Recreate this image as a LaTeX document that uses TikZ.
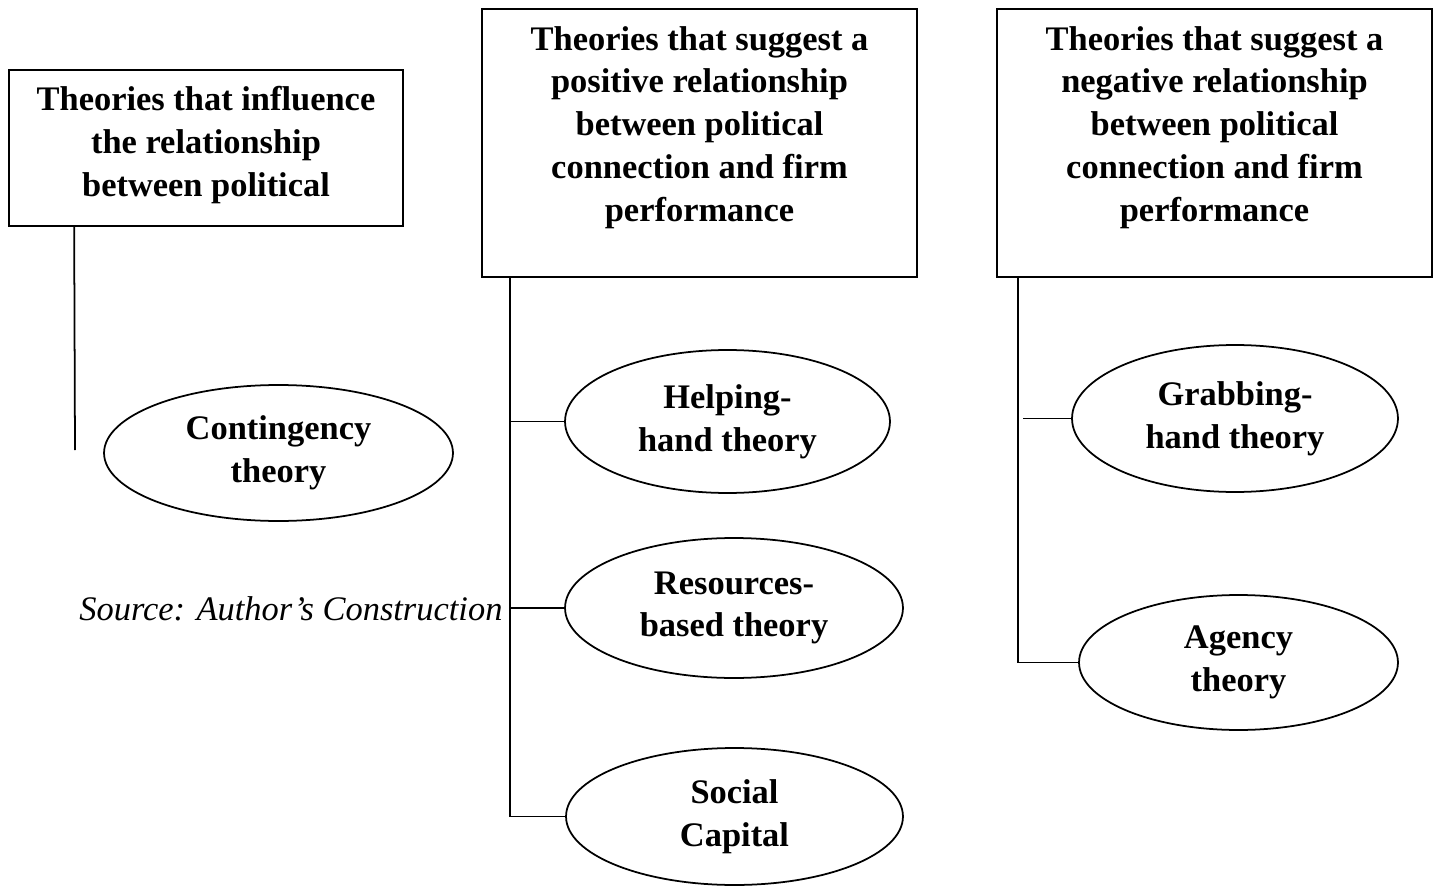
\documentclass[tikz,border=0pt]{standalone}
\usepackage{fontspec}
\setmainfont{Liberation Serif}
\usepackage{tikz}
\usetikzlibrary{shapes.geometric, positioning, calc}

\begin{document}
\begin{tikzpicture}[
  x=0.02cm, y=-0.02cm,
  header/.style={draw, line width=1pt, minimum width=8.7cm, minimum height=5.36cm, inner sep=0pt},
  headtext/.style={align=center, font=\fontsize{19.6pt}{24.4pt}\selectfont\bfseries, inner sep=0pt},
  theory/.style={draw, ellipse, line width=1pt, inner sep=0pt, align=center, font=\fontsize{19.6pt}{24.4pt}\selectfont\bfseries},
  link/.style={line width=1pt}
]
\useasboundingbox (0,0) rectangle (1441,892);

% header boxes
\node[header, minimum width=7.88cm, minimum height=3.12cm] (infl) at (206,148) {};
\node[headtext] (infltext) at (206,145) {Theories that influence\\the relationship\\between political};

\node[header] (pos) at (699.5,143) {};
\node[headtext] (postext) at (699.5,127.5) {Theories that suggest a\\positive relationship\\between political\\connection and firm\\performance};

\node[header] (neg) at (1214.5,143) {};
\node[headtext] (negtext) at (1214.5,127.5) {Theories that suggest a\\negative relationship\\between political\\connection and firm\\performance};

% theories
\node[theory, minimum width=6.98cm, minimum height=2.72cm] (conting) at (278.5,453) {Contingency\\theory};
\node[theory, minimum width=6.5cm, minimum height=2.86cm] (helping) at (727.5,421.5) {Helping-\\hand theory};
\node[theory, minimum width=6.76cm, minimum height=2.8cm] (resource) at (734,608) {Resources-\\based theory};
\node[theory, minimum width=6.74cm, minimum height=2.74cm] (social) at (734.5,816.5) {Social\\Capital};
\node[theory, minimum width=6.52cm, minimum height=2.94cm] (grabbing) at (1235,418.5) {Grabbing-\\hand theory};
\node[theory, minimum width=6.38cm, minimum height=2.7cm] (agency) at (1238.5,662.5) {Agency\\theory};

\node[font=\fontsize{19.6pt}{24.4pt}\selectfont\itshape, anchor=west, inner sep=0pt] (source) at (79,609) {Source: Author’s Construction};

% connectors
\coordinate (inflbus) at ($(infl.south west)+(66,0)$);
\coordinate (inflend) at (75,450);
\draw[link] (inflbus) -- (inflend);

\coordinate (posbus) at ($(pos.south west)+(29,0)$);
\draw[link] (posbus) |- (social.west);
\draw[link] (posbus |- helping.west) -- (helping.west);
\draw[link] (posbus |- resource.west) -- (resource.west);

\coordinate (negbus) at ($(neg.south west)+(22,0)$);
\draw[link] (negbus) |- (agency.west);
\draw[link] ($(negbus |- grabbing.west)+(5,0)$) -- (grabbing.west);

\end{tikzpicture}
\end{document}
